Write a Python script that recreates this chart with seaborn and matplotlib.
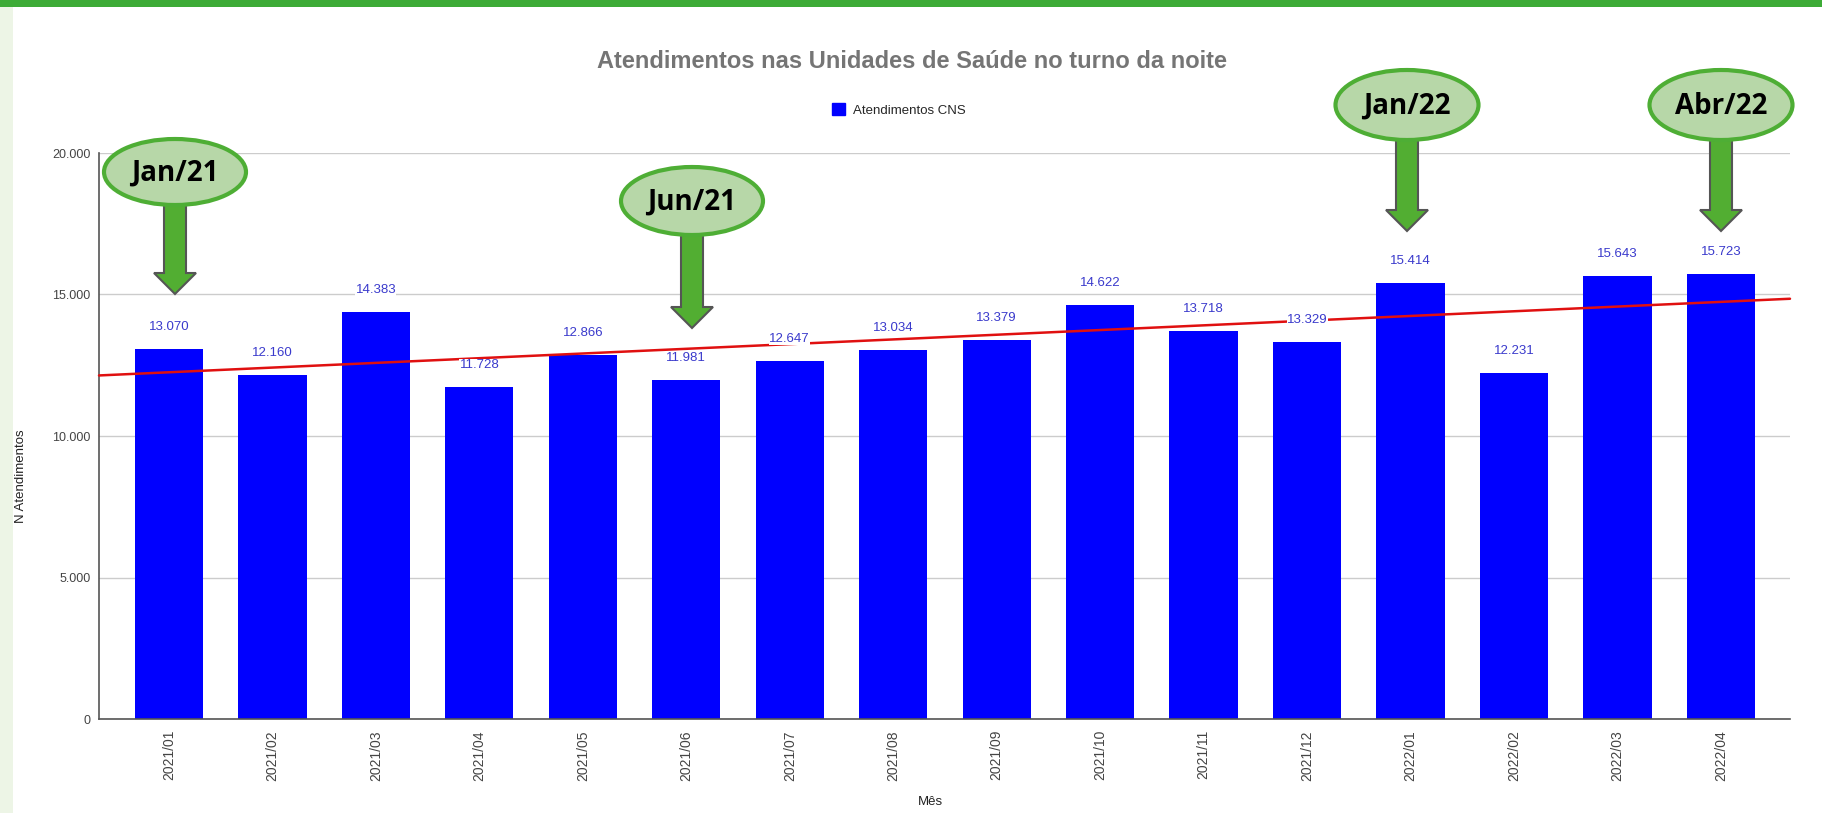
import numpy as np
import pandas as pd
import matplotlib
matplotlib.use("Agg")
import matplotlib.pyplot as plt
import matplotlib.transforms as mtransforms
from matplotlib.patches import Ellipse, Polygon, Rectangle
import seaborn as sns

# ---- data ----
months = ["2021/01", "2021/02", "2021/03", "2021/04", "2021/05", "2021/06",
          "2021/07", "2021/08", "2021/09", "2021/10", "2021/11", "2021/12",
          "2022/01", "2022/02", "2022/03", "2022/04"]
atendimentos = [13070, 12160, 14383, 11728, 12866, 11981, 12647, 13034,
                13379, 14622, 13718, 13329, 15414, 12231, 15643, 15723]
y_ticks = [0, 5000, 10000, 15000, 20000]
callout_labels = ["Jan/21", "Jun/21", "Jan/22", "Abr/22"]

title = "Atendimentos nas Unidades de Saúde no turno da noite"
series_name = "Atendimentos CNS"

df = pd.DataFrame({"Mês": months, "N Atendimentos": atendimentos})

sns.set_style("white")
plt.rcParams["font.family"] = ["Liberation Sans", "DejaVu Sans"]

W, H = 1822, 813
fig = plt.figure(figsize=(W / 100, H / 100), dpi=100)
fig.patch.set_facecolor("white")

# pixel (y-down) transform in figure space
px = mtransforms.Affine2D().scale(1 / W, -1 / H).translate(0, 1) + fig.transFigure

# decorative frame
fig.add_artist(Rectangle((0, 0), W, 7, transform=px, color="#3dab37", lw=0, zorder=0))
fig.add_artist(Rectangle((0, 7), 13, H - 7, transform=px, color="#edf5e6", lw=0, zorder=0))

ax = fig.add_axes([99 / W, 1 - 719 / H, (1790 - 99) / W, (719 - 153) / H])
sns.barplot(data=df, x="Mês", y="N Atendimentos", ax=ax, color="#0000ff",
            saturation=1, width=0.66, zorder=2, edgecolor="none")

ax.set_xlim(-0.676, 15.667)
ax.set_ylim(0, 20000)
ax.set_yticks(y_ticks)
ax.set_yticklabels([f"{t:,}".replace(",", ".") for t in y_ticks])
ax.yaxis.grid(True, color="#cccccc", lw=1)
ax.set_axisbelow(True)
for s in ["top", "right"]:
    ax.spines[s].set_visible(False)
for s in ["left", "bottom"]:
    ax.spines[s].set_color("#555555")
    ax.spines[s].set_linewidth(1.2)
ax.tick_params(axis="x", rotation=90, labelsize=10, colors="#444444", length=0, pad=8)
ax.tick_params(axis="y", labelsize=9, colors="#444444", length=0, pad=6)
ax.set_xlabel("")
ax.set_ylabel("")

# trend line
xs = np.arange(len(atendimentos))
k, b = np.polyfit(xs, atendimentos, 1)
xl = np.array(ax.get_xlim())
ax.plot(xl, k * xl + b, color="#e01010", lw=1.8, zorder=3, clip_on=False)

# value labels
for i, v in enumerate(atendimentos):
    ax.annotate(f"{v:,}".replace(",", "."), (i, v), xytext=(0, 16),
                textcoords="offset points", ha="center", va="center",
                fontsize=9.5, color="#3a3acc", zorder=4,
                bbox=dict(boxstyle="square,pad=0.02", fc="white", ec="none"))

# titles / labels
fig.text(912 / W, 1 - 61 / H, title, ha="center", va="center",
         fontsize=17, fontweight="bold", color="#757575")
fig.text(21 / W, 1 - 476 / H, "N Atendimentos", rotation=90, ha="center",
         va="center", fontsize=9.5, color="#222222")
fig.text(930 / W, 1 - 802 / H, "Mês", ha="center", va="center",
         fontsize=9.5, color="#222222")

# legend
handles = [Rectangle((0, 0), 1, 1, color="#0000ff")]
fig.legend(handles, [series_name], loc="center",
           bbox_to_anchor=(899 / W, 1 - 110 / H), frameon=False,
           fontsize=9.5, handlelength=1.0, handleheight=1.0, handletextpad=0.6)

# callouts (ellipse + arrow), in reference pixel coords
callouts = [
    # cx, cy, w, h, arrow top, arrow tip
    (175, 172, 142, 66, 205, 294),
    (692, 201, 142, 68, 235, 328),
    (1407, 105, 143, 70, 140, 231),
    (1721, 105, 143, 70, 140, 231),
]
for (cx, cy, w, h, atop, tip), lab in zip(callouts, callout_labels):
    shaft, head, hl = 11, 21, 21
    poly = [(cx - shaft, atop), (cx + shaft, atop), (cx + shaft, tip - hl),
            (cx + head, tip - hl), (cx, tip), (cx - head, tip - hl),
            (cx - shaft, tip - hl)]
    fig.add_artist(Polygon(poly, closed=True, transform=px, fc="#52ae32",
                           ec="#555555", lw=1.5, zorder=5))
    fig.add_artist(Ellipse((cx, cy), w, h, transform=px, fc="#b7d7a8",
                           ec="#4eae35", lw=3, zorder=6))
    fig.text(cx / W, 1 - (cy + 1) / H, lab, ha="center", va="center",
             fontsize=20, fontweight="bold", family=["Open Sans", "DejaVu Sans"],
             color="black", zorder=7)

fig.savefig("out.png", dpi=100, facecolor="white")
